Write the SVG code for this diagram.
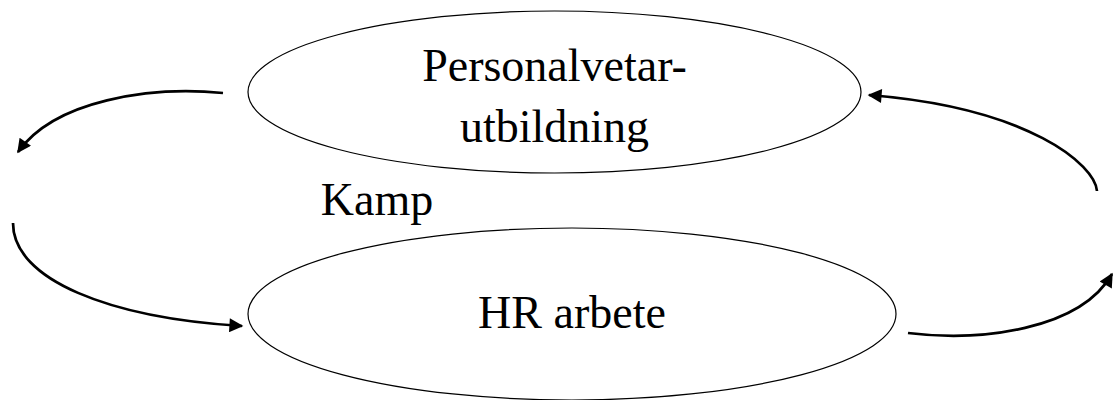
<svg xmlns="http://www.w3.org/2000/svg" width="1114" height="400" viewBox="0 0 1114 400">
  <style>
    .node ellipse { fill: #ffffff; stroke: #000000; stroke-width: 1.2; }
    .label { font-family: "Liberation Serif", "Times New Roman", serif; font-size: 46px; fill: #000000; text-anchor: middle; }
    .conn path { fill: none; stroke: #000000; stroke-width: 2.7; }
  </style>
  <defs>
    <marker id="arrow" viewBox="0 0 10 10" refX="9" refY="5" markerWidth="16" markerHeight="14" markerUnits="userSpaceOnUse" orient="auto">
      <path d="M0,0 L10,5 L0,10 Z" fill="#000000"/>
    </marker>
  </defs>
  <rect width="1114" height="400" fill="#ffffff"/>
  <g id="node-personalvetarutbildning" class="node">
    <ellipse cx="554.5" cy="92" rx="306.5" ry="81"/>
    <text class="label" x="554.5" y="81">Personalvetar-</text>
    <text class="label" x="554.5" y="142">utbildning</text>
  </g>
  <g id="node-hr-arbete" class="node">
    <ellipse cx="572" cy="314" rx="324" ry="86"/>
    <text class="label" x="572" y="328">HR arbete</text>
  </g>
  <g id="label-kamp">
    <text class="label" x="377" y="215">Kamp</text>
  </g>
  <g id="connectors" class="conn">
    <path d="M223,93 C150,86 55,100 18,152" marker-end="url(#arrow)"/>
    <path d="M13,223 C13,280 110,318 242,326" marker-end="url(#arrow)"/>
    <path d="M1097,191 C1095,165 1030,108 869,95" marker-end="url(#arrow)"/>
    <path d="M908,333 C980,342 1080,330 1112,274" marker-end="url(#arrow)"/>
  </g>
</svg>
